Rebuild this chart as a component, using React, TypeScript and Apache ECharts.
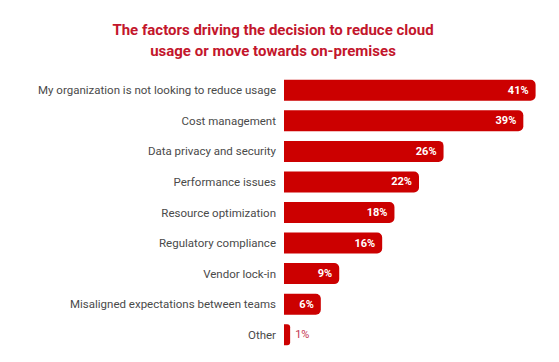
import React, { useEffect, useRef } from "react";
import * as echarts from "echarts";

const titleLines = [
  "The factors driving the decision to reduce cloud",
  "usage or move towards on-premises",
];
const categories = [
  "My organization is not looking to reduce usage",
  "Cost management",
  "Data privacy and security",
  "Performance issues",
  "Resource optimization",
  "Regulatory compliance",
  "Vendor lock-in",
  "Misaligned expectations between teams",
  "Other",
];
const values = [41, 39, 26, 22, 18, 16, 9, 6, 1];

export default function App() {
  const ref = useRef<HTMLDivElement>(null);
  useEffect(() => {
    document.body.style.margin = "0";
    const chart = echarts.init(ref.current!, undefined, { renderer: "svg" });
    const data = values.map((v) => {
      if (v < 3) {
        return {
          value: v,
          itemStyle: { borderRadius: [0, 3, 3, 0] },
          label: {
            position: "right",
            distance: 5,
            color: "#c4344f",
            fontWeight: "normal",
          },
        };
      }
      return { value: v };
    });
    chart.setOption({
      animation: false,
      backgroundColor: "#ffffff",
      title: {
        text: titleLines.join("\n"),
        left: 268,
        textAlign: "center",
        top: 14,
        textStyle: {
          color: "#c3162c",
          fontFamily: "Roboto",
          fontWeight: "bold",
          fontSize: 15,
          lineHeight: 21,
        },
      },
      grid: { left: 284, top: 75, width: 270, height: 275, containLabel: false },
      xAxis: { type: "value", min: 0, max: 44, show: false },
      yAxis: {
        type: "category",
        data: categories,
        inverse: true,
        axisLine: { show: false },
        axisTick: { show: false },
        splitLine: { show: false },
        axisLabel: {
          margin: 8,
          color: "#4a4a4a",
          fontSize: 11.5,
          fontFamily: "Roboto",
        },
      },
      series: [
        {
          type: "bar",
          data,
          barWidth: 21,
          itemStyle: { color: "#cc0000", borderRadius: [0, 5, 5, 0] },
          label: {
            show: true,
            position: "insideRight",
            distance: 7,
            formatter: "{c}%",
            color: "#ffffff",
            fontWeight: "bold",
            fontSize: 11,
            fontFamily: "Roboto",
          },
        },
      ],
    });
    return () => chart.dispose();
  }, []);
  return <div ref={ref} style={{ width: 559, height: 362 }} />;
}
